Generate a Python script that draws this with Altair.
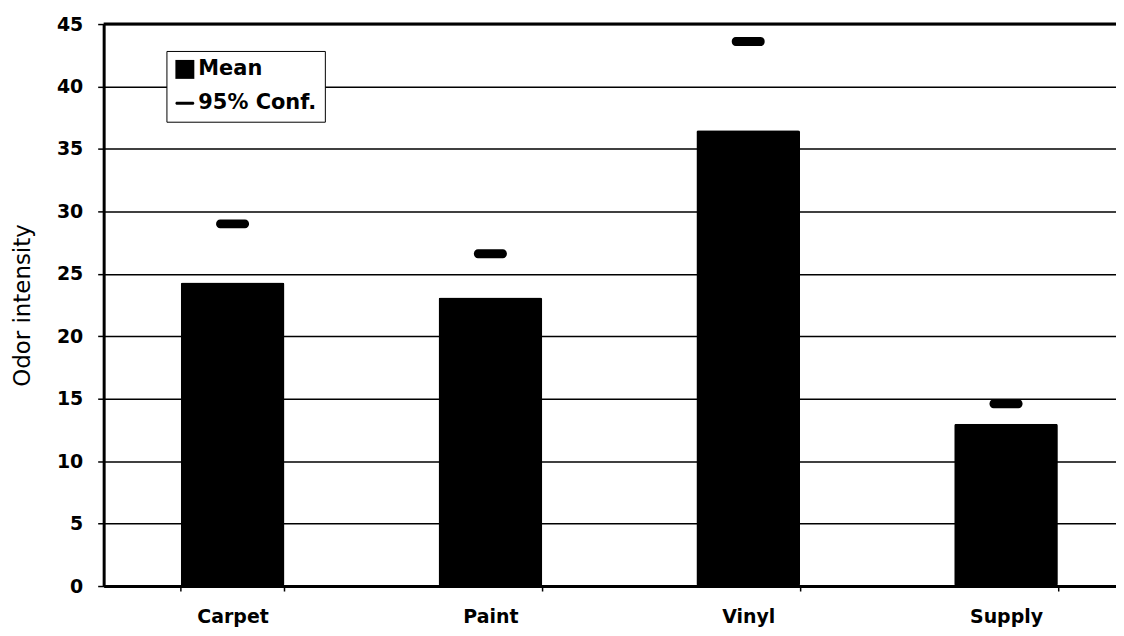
import altair as alt
import pandas as pd

categories = ["Carpet", "Paint", "Vinyl", "Supply"]
mean_values = [24.3, 23.1, 36.5, 13.0]
conf_values = [29.0, 26.6, 43.6, 14.6]
y_ticks = [0, 5, 10, 15, 20, 25, 30, 35, 40, 45]
series_names = ["Mean", "95% Conf."]
y_max = 45

df = pd.DataFrame({
    "category": categories,
    "mean": mean_values,
    "conf": conf_values,
    "series": [series_names[1]] * len(categories),
})
top_df = pd.DataFrame({"top": [y_max]})

FONT = "DejaVu Sans"
dash_path = "M-0.84,-0.16H0.84A0.16,0.16 0 0 1 0.84,0.16H-0.84A0.16,0.16 0 0 1 -0.84,-0.16Z"

x_enc = alt.X(
    "category:N",
    sort=categories,
    scale=alt.Scale(range=[0, 1035], paddingInner=0.598, paddingOuter=0.299),
    axis=alt.Axis(
        title=None, labelAngle=0, labelFont=FONT, labelFontWeight="bold",
        labelFontSize=19, labelColor="black", labelPadding=17,
        tickBand="extent", tickSize=5, tickWidth=1.5, tickColor="black",
        domainColor="black", domainWidth=3, grid=False,
    ),
)

y_axis = alt.Axis(
    values=y_ticks, title="Odor intensity", grid=True, gridColor="black",
    gridWidth=1.5, domainColor="black", domainWidth=3, tickColor="black",
    tickSize=6, tickWidth=1.5, labelFont=FONT, labelFontWeight="bold",
    labelFontSize=19, labelColor="black", labelPadding=15,
    titleFont=FONT, titleFontSize=23, titleFontWeight="normal",
    titleColor="black", titleX=-74, titleY=282, titleAngle=270,
    titleAlign="center", titleBaseline="alphabetic",
)
y_scale = alt.Scale(domain=[0, y_max], nice=False)

bars = alt.Chart(df).mark_bar(color="black", cornerRadius=2).encode(
    x=x_enc,
    y=alt.Y("mean:Q", scale=y_scale, axis=y_axis),
)

conf = alt.Chart(df).mark_tick(
    color="black", opacity=1, size=33, thickness=9, cornerRadius=4
).encode(
    x=x_enc,
    y=alt.Y("conf:Q", scale=y_scale, axis=y_axis),
)

legend_layer = alt.Chart(df).transform_filter(
    alt.datum.conf < 0
).mark_point(filled=True, opacity=1, color="black").encode(
    x=x_enc,
    y=alt.Y("conf:Q", scale=y_scale, axis=y_axis),
    shape=alt.Shape(
        "series:N",
        scale=alt.Scale(domain=series_names, range=["square", dash_path]),
        legend=alt.Legend(
            title=None, orient="none", legendX=63, legendY=27,
            strokeColor="black", fillColor="white",
            padding=8, labelFont=FONT, labelFontWeight="bold",
            labelFontSize=21, labelColor="black", labelOffset=3,
            symbolSize=361, symbolFillColor="black", symbolStrokeWidth=0,
            symbolOpacity=1, rowPadding=12,
        ),
    ),
)

top_rule = alt.Chart(top_df).mark_rule(color="black", strokeWidth=3).encode(
    y=alt.Y("top:Q", scale=y_scale, axis=y_axis)
)

chart = alt.layer(bars, conf, legend_layer, top_rule).properties(
    width=1016, height=564,
    autosize=alt.AutoSizeParams(type="none"),
    padding={"left": 96, "top": 15, "right": 0, "bottom": 42},
).configure_view(strokeWidth=0).configure_legend(strokeDash=[3, 2]).configure(background="white")

chart.save("out.html", embed_options={"renderer": "svg", "actions": False})
